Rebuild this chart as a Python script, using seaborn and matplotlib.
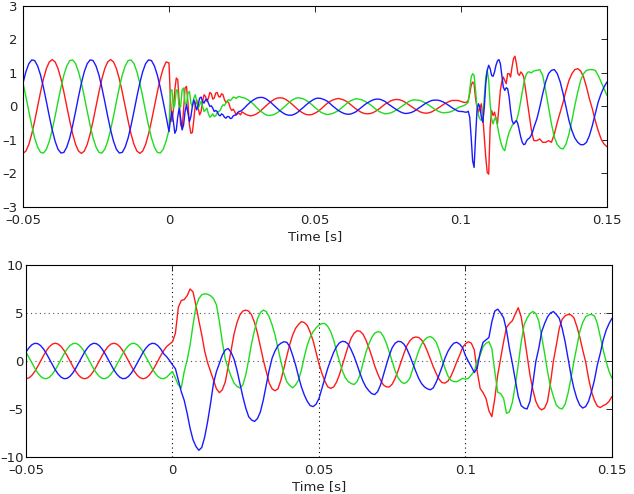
import numpy as np
import pandas as pd
import seaborn as sns
import matplotlib.pyplot as plt

# sample times (s): finer steps where the top traces oscillate fast
t_top = np.concatenate([np.arange(-50, 0) / 1000, np.arange(0, 50) / 2000,
                        np.arange(25, 100) / 1000, np.arange(200, 250) / 2000,
                        np.arange(125, 151) / 1000])
t_bot = np.arange(-50, 151) / 1000

# top panel, three phases
top_red = [
    -1.40, -1.33, -1.13, -0.82, -0.43, 0.00, 0.43, 0.82, 1.13, 1.33,
    1.40, 1.33, 1.13, 0.82, 0.43, 0.00, -0.43, -0.82, -1.13, -1.33,
    -1.40, -1.33, -1.13, -0.82, -0.43, 0.00, 0.43, 0.82, 1.13, 1.33,
    1.40, 1.33, 1.13, 0.82, 0.43, 0.00, -0.43, -0.82, -1.13, -1.33,
    -1.40, -1.33, -1.13, -0.82, -0.43, 0.00, 0.43, 0.82, 1.13, 1.33,
    # fault, 0.5 ms steps
    1.30, 0.20, -0.45, -0.10, 0.50, 0.85, 0.80, 0.10, -0.55, -0.65,
    -0.10, 0.55, 0.60, 0.10, -0.55, -0.80, -0.78, -0.40, 0.05, 0.20,
    -0.05, -0.25, -0.15, 0.15, 0.35, 0.30, 0.15, 0.25, 0.42, 0.38,
    0.22, 0.25, 0.40, 0.42, 0.30, 0.28, 0.38, 0.35, 0.20, 0.12,
    0.15, 0.10, -0.05, -0.12, -0.08, -0.15, -0.25, -0.22, -0.20, -0.25,
    # 0.025 .. 0.099
    -0.16, -0.22, -0.26, -0.28, -0.26, -0.22, -0.16, -0.08, 0.00, 0.08,
    0.15, 0.21, 0.25, 0.26, 0.25, 0.21, 0.15, 0.08, 0.00, -0.08,
    -0.15, -0.20, -0.24, -0.25, -0.24, -0.20, -0.15, -0.08, 0.00, 0.08,
    0.14, 0.19, 0.22, 0.24, 0.22, 0.19, 0.14, 0.07, 0.00, -0.07,
    -0.13, -0.18, -0.21, -0.22, -0.21, -0.18, -0.13, -0.07, 0.00, 0.07,
    0.12, 0.17, 0.20, 0.21, 0.20, 0.17, 0.12, 0.06, 0.00, -0.06,
    -0.11, -0.16, -0.19, -0.20, -0.19, -0.16, -0.11, -0.06, 0.00, 0.06,
    0.11, 0.15, 0.18, 0.18, 0.18,
    # clearing, 0.5 ms steps
    0.15, 0.14, 0.12, 0.12, 0.13, 0.18, 0.38, 0.63, 0.73, 0.68,
    0.23, -0.02, -0.17, -0.02, 0.08, -0.32, -0.92, -1.52, -1.97, -2.02,
    -0.62, -0.12, -0.27, -0.17, -0.37, -0.52, -0.02, 0.48, 0.73, 0.88,
    0.78, 0.68, 0.98, 0.98, 0.88, 1.18, 1.43, 1.50, 1.28, 0.98,
    0.93, 1.03, 0.98, 0.88, 0.58, 0.28, -0.02, -0.32, -0.62, -0.87,
    # 0.125 .. 0.150
    -1.02, -1.02, -0.97, -1.07, -1.07, -1.02, -1.07, -0.82, -0.47, -0.17,
    0.13, 0.48, 0.78, 0.98, 1.10, 1.13, 1.06, 0.88, 0.58, 0.23,
    -0.07, -0.42, -0.72, -0.97, -1.12, -1.20,
]
top_green = [
    0.70, 0.29, -0.15, -0.57, -0.94, -1.21, -1.37, -1.39, -1.28, -1.04,
    -0.70, -0.29, 0.15, 0.57, 0.94, 1.21, 1.37, 1.39, 1.28, 1.04,
    0.70, 0.29, -0.15, -0.57, -0.94, -1.21, -1.37, -1.39, -1.28, -1.04,
    -0.70, -0.29, 0.15, 0.57, 0.94, 1.21, 1.37, 1.39, 1.28, 1.04,
    0.70, 0.29, -0.15, -0.57, -0.94, -1.21, -1.37, -1.39, -1.28, -1.04,
    -0.70, 0.45, 0.50, -0.05, 0.05, 0.50, 0.45, -0.05, 0.00, 0.50,
    0.55, 0.10, 0.05, 0.40, 0.45, 0.10, 0.00, 0.25, 0.35, 0.15,
    -0.05, 0.05, 0.15, 0.00, -0.15, -0.10, -0.05, -0.22, -0.32, -0.28,
    -0.22, -0.30, -0.28, -0.18, -0.15, -0.12, -0.02, 0.05, 0.03, 0.10,
    0.18, 0.20, 0.17, 0.22, 0.28, 0.27, 0.24, 0.28, 0.30, 0.28,
    0.27, 0.25, 0.20, 0.14, 0.06, -0.03, -0.11, -0.18, -0.24, -0.27,
    -0.26, -0.24, -0.19, -0.13, -0.05, 0.03, 0.11, 0.18, 0.23, 0.26,
    0.25, 0.23, 0.18, 0.12, 0.05, -0.03, -0.10, -0.17, -0.21, -0.24,
    -0.23, -0.21, -0.17, -0.12, -0.05, 0.02, 0.10, 0.16, 0.20, 0.23,
    0.22, 0.20, 0.16, 0.11, 0.05, -0.02, -0.09, -0.15, -0.19, -0.22,
    -0.21, -0.19, -0.15, -0.10, -0.04, 0.02, 0.08, 0.14, 0.18, 0.20,
    0.19, 0.18, 0.14, 0.10, 0.04, -0.02, -0.08, -0.13, -0.17, -0.19,
    -0.18, -0.17, -0.14, -0.09, -0.04,
    0.00, 0.01, 0.03, 0.05, 0.08, 0.13, 0.48, 0.88, 0.98, 0.93,
    0.48, -0.02, -0.27, -0.37, -0.42, -0.32, 0.28, 0.88, 1.08, 0.78,
    0.08, -0.37, -0.52, -0.37, -0.32, -0.57, -0.82, -1.02, -1.17, -1.27,
    -1.32, -1.12, -0.92, -0.77, -0.67, -0.57, -0.52, -0.47, -0.42, -0.27,
    -0.07, 0.18, 0.43, 0.68, 0.86, 0.98, 1.03, 1.03, 1.00, 1.03,
    1.06, 1.08, 1.10, 0.93, 0.48, -0.02, -0.52, -0.92, -1.14, -1.24,
    -1.27, -1.12, -0.82, -0.42, 0.03, 0.43, 0.78, 0.98, 1.08, 1.10,
    1.10, 1.08, 0.93, 0.73, 0.53, 0.33,
]
top_blue = [
    0.70, 1.04, 1.28, 1.39, 1.37, 1.21, 0.94, 0.57, 0.15, -0.29,
    -0.70, -1.04, -1.28, -1.39, -1.37, -1.21, -0.94, -0.57, -0.15, 0.29,
    0.70, 1.04, 1.28, 1.39, 1.37, 1.21, 0.94, 0.57, 0.15, -0.29,
    -0.70, -1.04, -1.28, -1.39, -1.37, -1.21, -0.94, -0.57, -0.15, 0.29,
    0.70, 1.04, 1.28, 1.39, 1.37, 1.21, 0.94, 0.57, 0.15, -0.29,
    -0.75, -0.40, -0.15, -0.45, -0.80, -0.70, -0.30, -0.05, -0.35, -0.70,
    -0.55, -0.15, 0.05, -0.20, -0.45, -0.30, 0.00, 0.20, 0.05, -0.10,
    0.05, 0.25, 0.28, 0.15, 0.10, 0.20, 0.22, 0.10, 0.00, 0.02,
    -0.05, -0.15, -0.12, -0.15, -0.25, -0.28, -0.22, -0.25, -0.32, -0.35,
    -0.30, -0.30, -0.36, -0.35, -0.28, -0.26, -0.25, -0.18, -0.15, -0.14,
    -0.11, -0.03, 0.06, 0.14, 0.20, 0.25, 0.27, 0.27, 0.24, 0.18,
    0.11, 0.03, -0.05, -0.13, -0.19, -0.24, -0.26, -0.26, -0.23, -0.18,
    -0.10, -0.03, 0.05, 0.12, 0.18, 0.23, 0.25, 0.24, 0.21, 0.17,
    0.10, 0.02, -0.05, -0.12, -0.17, -0.21, -0.23, -0.23, -0.20, -0.16,
    -0.09, -0.02, 0.05, 0.11, 0.16, 0.20, 0.22, 0.22, 0.19, 0.15,
    0.08, 0.02, -0.04, -0.10, -0.15, -0.19, -0.21, -0.20, -0.18, -0.14,
    -0.08, -0.02, 0.04, 0.10, 0.14, 0.18, 0.19, 0.19, 0.17, 0.13,
    0.08, 0.02, -0.04, -0.09, -0.14,
    -0.15, -0.15, -0.16, -0.17, -0.17, -0.14, -0.32, -0.92, -1.62, -1.82,
    -0.92, -0.12, 0.08, -0.02, -0.32, -0.47, -0.02, 0.68, 1.08, 1.23,
    1.13, 0.93, 0.90, 1.03, 1.23, 1.36, 1.40, 1.28, 0.93, 0.58,
    0.48, 0.56, 0.53, 0.28, -0.12, -0.42, -0.52, -0.47, -0.42, -0.52,
    -0.72, -0.92, -1.07, -1.14, -1.12, -1.02, -0.97, -0.94, -0.87, -0.77,
    -0.62, -0.37, -0.02, 0.38, 0.73, 0.98, 1.08, 1.10, 0.98, 0.73,
    0.38, -0.02, -0.42, -0.72, -0.94, -1.07, -1.14, -1.14, -1.07, -0.87,
    -0.57, -0.22, 0.13, 0.38, 0.58, 0.73,
]

# bottom panel, 1 ms steps
bot_red = [
    -1.85, -1.76, -1.50, -1.09, -0.57, 0.00, 0.57, 1.09, 1.50, 1.76,
    1.85, 1.76, 1.50, 1.09, 0.57, 0.00, -0.57, -1.09, -1.50, -1.76,
    -1.85, -1.76, -1.50, -1.09, -0.57, 0.00, 0.57, 1.09, 1.50, 1.76,
    1.85, 1.76, 1.50, 1.09, 0.57, 0.00, -0.57, -1.09, -1.50, -1.76,
    -1.85, -1.76, -1.50, -1.09, -0.57, 0.00, 0.57, 1.09, 1.50, 1.76,
    2.0, 2.9, 5.6, 6.3, 6.4, 6.8, 7.5, 7.2, 5.8, 4.2,
    2.7, 1.0, -0.2, -1.1, -2.0, -2.9, -3.3, -3.0, -2.2, -0.6,
    1.1, 2.8, 4.0, 4.8, 5.2, 5.3, 5.2, 4.8, 4.0, 2.9,
    1.5, 0.1, -1.1, -2.3, -2.9, -3.1, -2.9, -2.0, -0.8, 0.5,
    1.7, 2.7, 3.4, 3.8, 4.1, 4.0, 3.7, 3.0, 2.1, 0.9,
    -0.3, -1.3, -2.1, -2.7, -2.85, -2.7, -2.2, -1.4, -0.4, 0.6,
    1.6, 2.4, 2.9, 3.15, 3.1, 2.8, 2.2, 1.4, 0.5, -0.5,
    -1.3, -2.0, -2.5, -2.7, -2.7, -2.4, -1.8, -1.0, -0.1, 0.8,
    1.6, 2.1, 2.4, 2.5, 2.45, 2.2, 1.7, 1.0, 0.2, -0.6,
    -1.3, -1.9, -2.25, -2.3, -2.1, -1.6, -0.9, -0.1, 0.6, 1.4,
    1.8, 2.0, 1.85, 1.15, -1.1, -2.85, -3.3, -3.9, -5.2, -5.8,
    -3.9, -1.45, 0.3, 2.0, 3.5, 3.9, 4.2, 4.9, 5.55, 4.6,
    2.7, 0.6, -1.45, -3.0, -4.2, -4.85, -5.1, -4.9, -4.2, -2.3,
    0.0, 1.65, 3.4, 4.35, 4.7, 4.85, 4.8, 4.5, 3.6, 2.5,
    1.15, -0.07, -1.8, -3.2, -4.1, -4.7, -4.85, -4.65, -4.5, -4.2,
    -3.7,
]
bot_green = [
    0.93, 0.38, -0.19, -0.75, -1.24, -1.60, -1.81, -1.84, -1.69, -1.37,
    -0.93, -0.38, 0.19, 0.75, 1.24, 1.60, 1.81, 1.84, 1.69, 1.37,
    0.93, 0.38, -0.19, -0.75, -1.24, -1.60, -1.81, -1.84, -1.69, -1.37,
    -0.93, -0.38, 0.19, 0.75, 1.24, 1.60, 1.81, 1.84, 1.69, 1.37,
    0.93, 0.38, -0.19, -0.75, -1.24, -1.60, -1.81, -1.84, -1.69, -1.37,
    -1.1, -1.8, -2.5, -2.8, -1.1, 0.1, 1.65, 3.75, 5.65, 6.5,
    6.9, 7.0, 6.95, 6.8, 6.5, 5.85, 4.1, 2.0, 0.2, -0.75,
    -1.6, -2.3, -2.65, -2.8, -2.5, -1.45, 0.1, 1.85, 3.2, 4.4,
    5.05, 5.3, 5.15, 4.6, 3.75, 2.7, 1.3, -0.05, -1.3, -2.15,
    -2.55, -2.8, -2.5, -2.0, -0.95, 0.45, 1.65, 2.5, 3.05, 3.45,
    3.75, 3.9, 3.9, 3.6, 3.05, 2.2, 1.0, -0.05, -1.05, -1.75,
    -2.15, -2.35, -2.45, -2.15, -1.45, -0.25, 0.9, 1.75, 2.45, 2.9,
    3.05, 3.0, 2.55, 1.85, 0.9, -0.05, -1.05, -1.75, -2.15, -2.35,
    -2.2, -1.8, -0.85, 0.1, 1.05, 1.75, 2.2, 2.45, 2.55, 2.35,
    1.95, 1.15, 0.1, -0.75, -1.55, -2.0, -2.15, -2.15, -2.0, -1.8,
    -1.9, -1.8, -1.45, -1.05, -0.05, 0.6, 1.5, 1.85, 2.0, 1.3,
    -1.1, -3.25, -3.4, -3.9, -5.45, -5.3, -4.3, -2.5, -0.4, 1.95,
    3.75, 4.45, 4.95, 5.15, 4.95, 4.15, 2.55, 0.8, -1.1, -2.65,
    -3.7, -4.6, -4.9, -5.0, -4.5, -3.35, -1.8, -0.05, 1.5, 3.05,
    4.0, 4.6, 4.8, 4.85, 4.7, 3.9, 2.55, 1.15, -0.05, -1.1,
    -1.8,
]
bot_blue = [
    0.93, 1.37, 1.69, 1.84, 1.81, 1.60, 1.24, 0.75, 0.19, -0.38,
    -0.93, -1.37, -1.69, -1.84, -1.81, -1.60, -1.24, -0.75, -0.19, 0.38,
    0.93, 1.37, 1.69, 1.84, 1.81, 1.60, 1.24, 0.75, 0.19, -0.38,
    -0.93, -1.37, -1.69, -1.84, -1.81, -1.60, -1.24, -0.75, -0.19, 0.38,
    0.93, 1.37, 1.69, 1.84, 1.81, 1.60, 1.24, 0.75, 0.45, 0.05,
    -0.4, -0.8, -2.0, -3.2, -4.1, -5.45, -7.0, -8.2, -8.9, -9.3,
    -9.0, -7.9, -6.3, -4.4, -2.3, -1.1, -0.25, 0.6, 1.15, 1.3,
    0.9, 0.2, -0.95, -2.3, -3.7, -4.9, -5.8, -6.15, -6.3, -6.0,
    -5.3, -4.05, -2.5, -0.95, 0.3, 1.05, 1.6, 1.85, 2.0, 1.95,
    1.5, 0.6, -0.4, -1.6, -2.7, -3.55, -4.2, -4.65, -4.75, -4.5,
    -3.9, -2.85, -1.8, -0.75, 0.1, 0.9, 1.5, 1.9, 2.05, 2.0,
    1.75, 1.15, 0.45, -0.4, -1.3, -2.1, -2.7, -3.1, -3.4, -3.5,
    -3.2, -2.5, -1.45, -0.4, 0.6, 1.4, 1.85, 2.05, 2.0, 1.75,
    1.25, 0.55, -0.25, -1.05, -1.8, -2.35, -2.7, -2.9, -3.0, -2.8,
    -2.2, -1.45, -0.6, 0.3, 1.0, 1.5, 1.85, 1.95, 1.75, 1.4,
    0.55, -0.05, -0.6, -1.2, -0.75, 0.9, 1.95, 2.2, 2.45, 4.1,
    5.2, 5.4, 5.0, 4.5, 3.2, 1.3, -0.25, -2.0, -3.7, -4.65,
    -4.9, -5.0, -4.2, -2.3, -0.05, 1.3, 3.05, 3.9, 4.6, 5.0,
    5.15, 4.85, 4.45, 3.4, 2.0, 0.3, -1.45, -2.85, -3.9, -4.6,
    -4.9, -4.75, -4.2, -3.2, -2.0, -0.4, 0.8, 2.2, 3.2, 3.9,
    4.45,
]

x_ticks = [-0.05, 0, 0.05, 0.1, 0.15]
x_labels = ["\u20130.05", "0", "0.05", "0.1", "0.15"]
top_yticks = [-3, -2, -1, 0, 1, 2, 3]
top_ylabels = ["\u20133", "\u20132", "\u20131", "0", "1", "2", "3"]
bot_yticks = [-10, -5, 0, 5, 10]
bot_ylabels = ["\u201310", "\u20135", "0", "5", "10"]
phase_colors = {"red": "#ff1a1a", "green": "#1edc1e", "blue": "#1a1aff"}


def long_frame(t, series):
    parts = [pd.DataFrame({"t": t, "v": vals, "phase": name}) for name, vals in series.items()]
    return pd.concat(parts, ignore_index=True)


df_top = long_frame(t_top, {"red": top_red, "green": top_green, "blue": top_blue})
df_bot = long_frame(t_bot, {"red": bot_red, "green": bot_green, "blue": bot_blue})

sns.set_style("white")
plt.rcParams['font.family'] = ['DejaVu Sans']

fig = plt.figure(figsize=(6.34, 4.94), dpi=100)
ax1 = fig.add_axes([0.0363, 0.581, 0.921, 0.4069])
ax2 = fig.add_axes([0.041, 0.0749, 0.9243, 0.3887])

for ax, df in [(ax1, df_top), (ax2, df_bot)]:
    sns.lineplot(data=df, x="t", y="v", hue="phase", hue_order=["red", "green", "blue"],
                 palette=phase_colors, estimator=None, sort=False, legend=False,
                 linewidth=1.0, ax=ax)
    ax.set_xlim(-0.05, 0.15)
    ax.set_xticks(x_ticks)
    ax.set_xticklabels(x_labels)
    ax.set_xlabel("Time [s]", fontsize=9.5, color="#222222", labelpad=2)
    ax.set_ylabel("")
    ax.tick_params(direction="in", top=True, right=True, length=4, width=0.7,
                   labelsize=9.5, labelcolor="#222222", pad=5)
    for s in ax.spines.values():
        s.set_color("black")
        s.set_linewidth(0.8)

ax1.set_ylim(-3, 3)
ax1.set_yticks(top_yticks)
ax1.set_yticklabels(top_ylabels)
ax1.tick_params(axis="y", pad=4)

ax2.set_ylim(-10, 10)
ax2.set_yticks(bot_yticks)
ax2.set_yticklabels(bot_ylabels)
ax2.tick_params(axis="y", pad=1.5)
for xv in [0, 0.05, 0.1]:
    ax2.axvline(xv, color="black", lw=0.8, ls=(0, (1, 3)), zorder=0)
for yv in [0, 5]:
    ax2.axhline(yv, color="#555555", lw=0.8, ls=(0, (1, 3)), zorder=0)

fig.savefig("out.png", dpi=100)
